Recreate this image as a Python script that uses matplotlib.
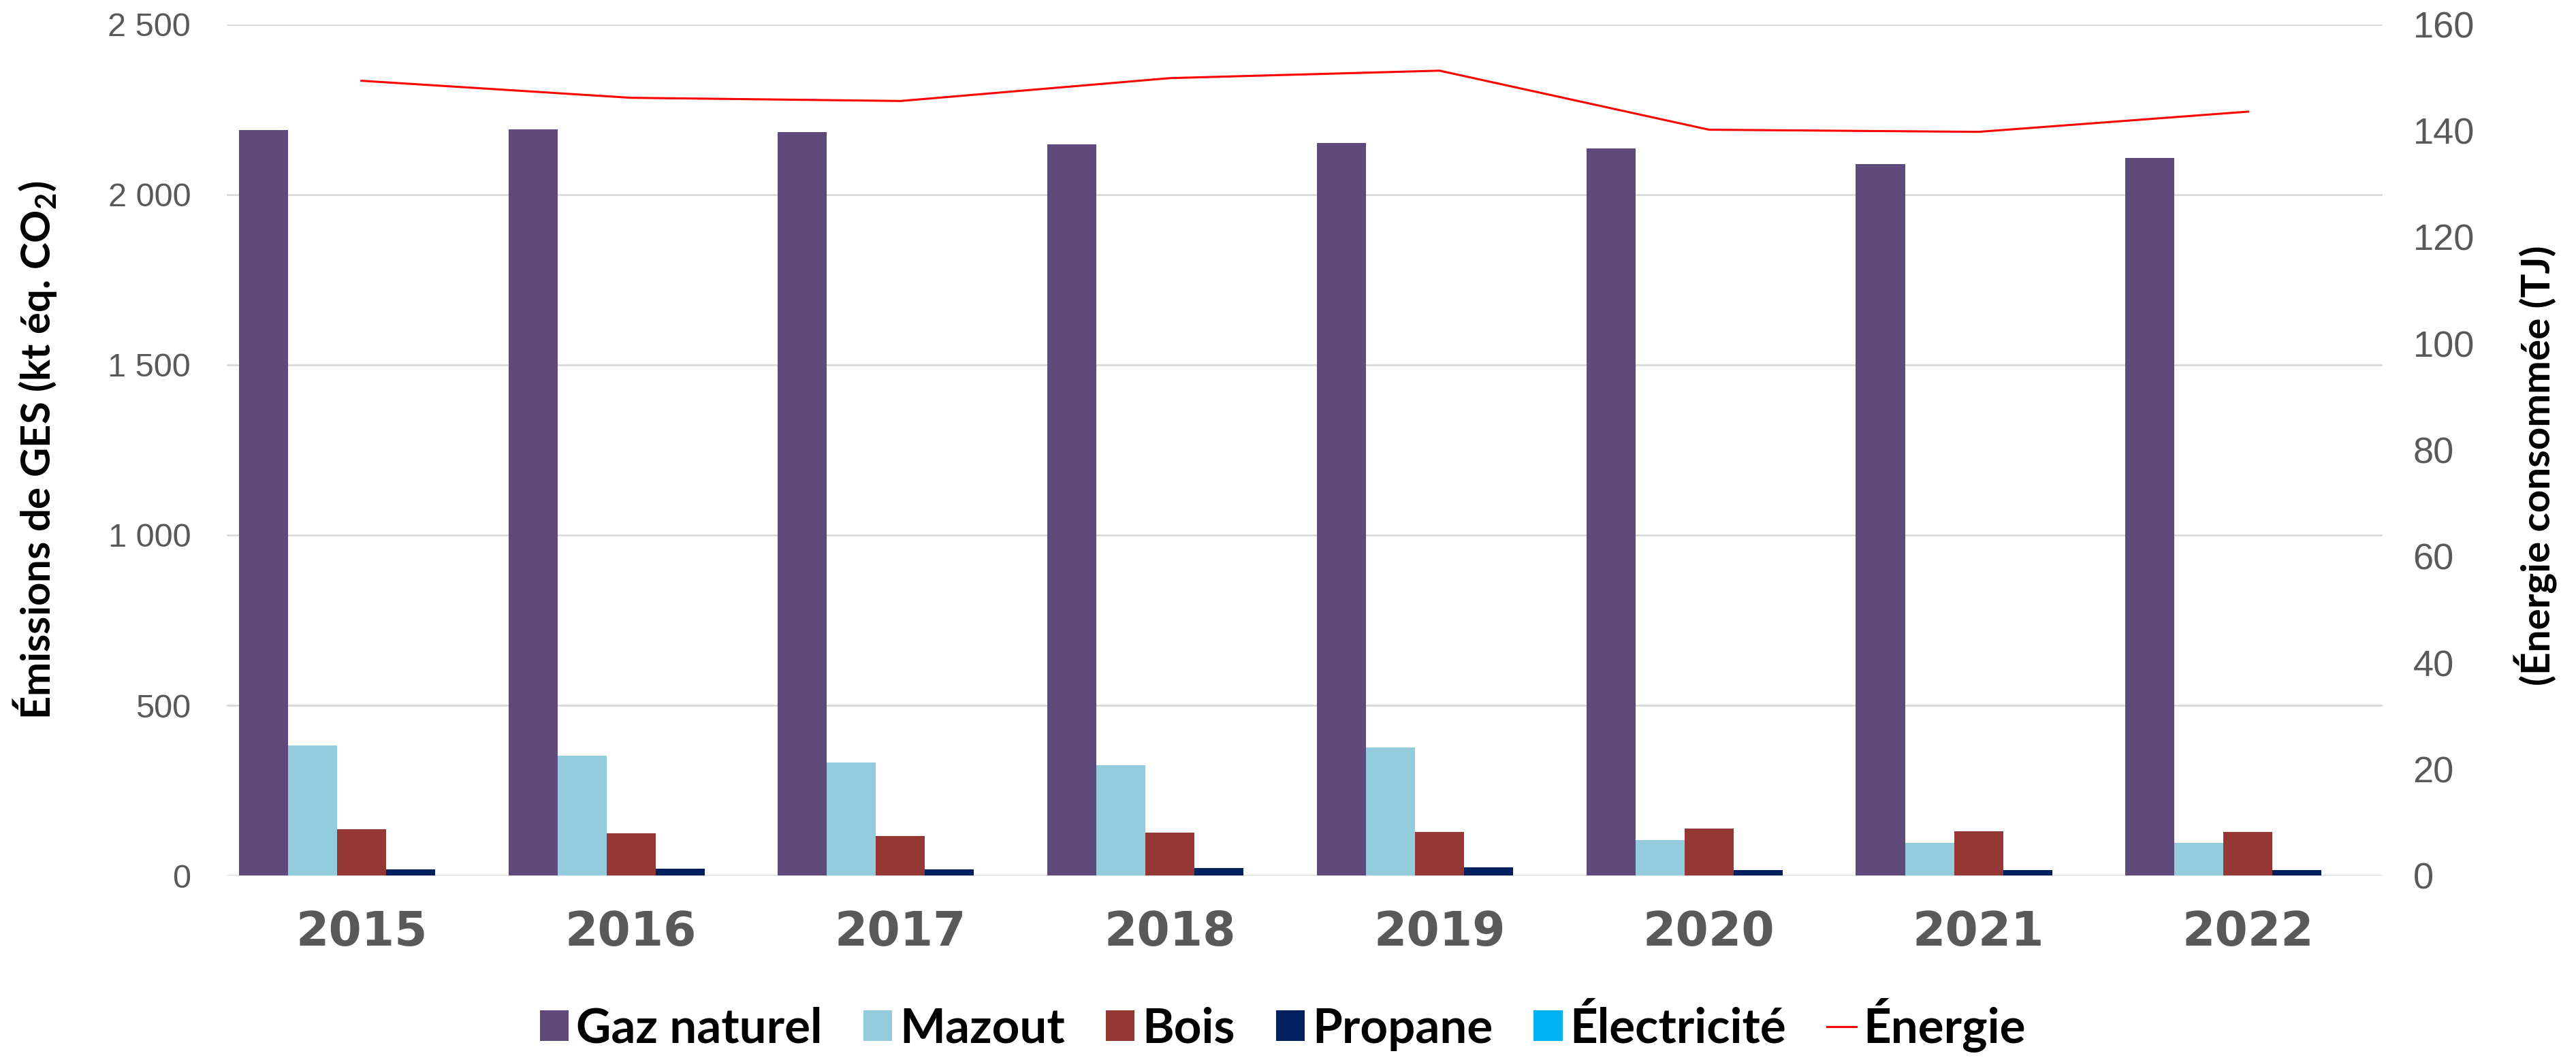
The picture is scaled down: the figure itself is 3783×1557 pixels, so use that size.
import matplotlib
matplotlib.use('Agg')
import numpy as np
import matplotlib.pyplot as plt

years = ["2015", "2016", "2017", "2018", "2019", "2020", "2021", "2022"]
gaz_naturel = [2190, 2192, 2184, 2148, 2152, 2135, 2090, 2108]
mazout = [383, 353, 333, 324, 377, 105, 96, 96]
bois = [136, 125, 117, 126, 129, 139, 130, 129]
propane = [19, 21, 19, 22, 24, 17, 16, 16]
electricite = [0, 0, 0, 0, 0, 0, 0, 0]
energie = [149.4, 146.2, 145.6, 149.9, 151.3, 140.2, 139.8, 143.6]

series = [
    ("Gaz naturel", gaz_naturel, "#604A7B"),
    ("Mazout", mazout, "#93CDDD"),
    ("Bois", bois, "#953735"),
    ("Propane", propane, "#002060"),
    ("Électricité", electricite, "#00B0F0"),
]

plt.rcParams['mathtext.fontset'] = 'custom'
plt.rcParams['mathtext.rm'] = 'Lato'
plt.rcParams['mathtext.bf'] = 'Lato:bold'

fig = plt.figure(figsize=(37.83, 15.57), dpi=100)
ax = fig.add_axes([0.088, 0.174, 0.837, 0.803])

x = np.arange(len(years))
w = 0.182
for i, (name, vals, col) in enumerate(series):
    ax.bar(x + (i - 2) * w, vals, w, color=col, label=name, zorder=2)

ax.set_xlim(-0.5, len(years) - 0.5)
ax.set_ylim(0, 2500)
ax.set_yticks(range(0, 2501, 500))
ax.set_yticklabels([f"{v:,}".replace(",", " ") for v in range(0, 2501, 500)],
                   family=['Liberation Sans', 'DejaVu Sans'], fontsize=35, color="#595959")
ax.set_xticks(x)
ax.set_xticklabels(years, family='DejaVu Sans', fontweight='bold', fontsize=50, color="#595959")
ax.tick_params(axis='y', length=0, pad=38)
ax.tick_params(axis='x', length=0, pad=36)
ax.grid(axis='y', color="#D9D9D9", linewidth=2, zorder=0)
for s in ax.spines.values():
    s.set_visible(False)
ax.set_ylabel("Émissions de GES (kt éq. CO$_{\\mathbf{2}}$)", family=['Lato', 'DejaVu Sans'],
              fontweight='bold', fontsize=43)
ax.yaxis.set_label_coords(-0.078, 0.50)

ax2 = ax.twinx()
ax2.plot(x, energie, color="#FF0000", linewidth=2.2, label="Énergie")
ax2.set_ylim(0, 160)
ax2.set_yticks(range(0, 161, 20))
ax2.set_yticklabels([str(v) for v in range(0, 161, 20)],
                    family=['Liberation Sans', 'DejaVu Sans'], fontsize=39, color="#595959")
ax2.tick_params(axis='y', length=0, pad=32)
for s in ax2.spines.values():
    s.set_visible(False)
ax2.set_ylabel("(Énergie consommée (TJ)", family=['Lato', 'DejaVu Sans'],
               fontweight='bold', fontsize=42, rotation=90)
ax2.yaxis.set_label_coords(1.061, 0.482)

h1, l1 = ax.get_legend_handles_labels()
h2, l2 = ax2.get_legend_handles_labels()
fig.legend(h1 + h2, l1 + l2, loc='center', bbox_to_anchor=(0.498, 0.033), ncol=6,
           frameon=False, prop={'family': ['Lato', 'DejaVu Sans'], 'weight': 'bold', 'size': 51},
           handlelength=0.6, handleheight=0.6, handletextpad=0.15, columnspacing=0.85)

fig.savefig("out.png", dpi=100)
